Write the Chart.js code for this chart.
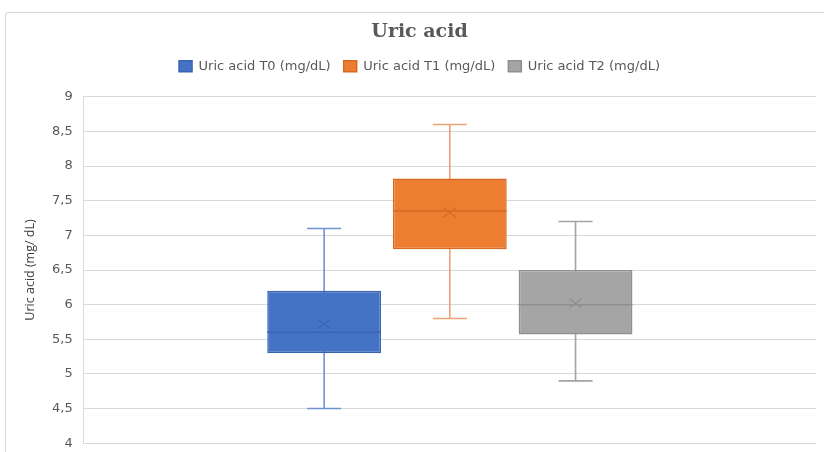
<!DOCTYPE html>
<html>
<head>
<meta charset="utf-8">
<script src="https://cdn.jsdelivr.net/npm/chart.js@4.4.1/dist/chart.umd.min.js"></script>
<style>
    html, body { margin: 0; padding: 0; background: #fff; overflow: hidden; }
    #wrap { position: relative; width: 824px; height: 452px; overflow: hidden; }
    #frame { position: absolute; left: 5px; top: 12px; width: 900px; height: 600px; border: 1px solid #d9d9d9; border-radius: 3px; pointer-events: none; }
    canvas { position: absolute; left: 0; top: 0; }
</style>
</head>
<body>
<div id="wrap">
    <div id="frame"></div>
    <canvas id="uricChart" width="824" height="462"></canvas>
</div>
<script>
const categories = [''];
const seriesLabels = ['Uric acid T0 (mg/dL)', 'Uric acid T1 (mg/dL)', 'Uric acid T2 (mg/dL)'];
const minValues = [4.5, 5.8, 4.9];
const q1Values = [5.3, 6.8, 5.57];
const medianValues = [5.6, 7.35, 6.0];
const q3Values = [6.2, 7.82, 6.5];
const maxValues = [7.1, 8.6, 7.2];
const meanValues = [5.72, 7.33, 6.02];
const yTicks = [4, 4.5, 5, 5.5, 6, 6.5, 7, 7.5, 8, 8.5, 9];

const fillColors = ['#4472C4', '#ED7D31', '#A5A5A5'];
const edgeColors = ['#3a64b0', '#d26a25', '#8f8f8f'];
const whiskerColors = ['#7192d3', '#eea277', '#a3a3a3'];

// extra room under the legend
const legendGap = {
    id: 'legendGap',
    beforeInit(chart) {
        const origFit = chart.legend.fit;
        chart.legend.fit = function () {
            origFit.bind(chart.legend)();
            this.height += 14;
        };
    }
};

// whiskers behind the boxes, median and mean on top
const boxPlotPlugin = {
    id: 'boxPlot',
    beforeDatasetsDraw(chart) {
        const ctx = chart.ctx;
        const y = chart.scales.y;
        chart.data.datasets.forEach((ds, i) => {
            const bar = chart.getDatasetMeta(i).data[0];
            if (!bar) return;
            const cap = 17;
            const yMin = y.getPixelForValue(minValues[i]);
            const yMax = y.getPixelForValue(maxValues[i]);
            ctx.save();
            ctx.strokeStyle = whiskerColors[i];
            ctx.lineWidth = 1.6;
            ctx.beginPath();
            ctx.moveTo(bar.x, yMin);
            ctx.lineTo(bar.x, yMax);
            ctx.moveTo(bar.x - cap, yMin);
            ctx.lineTo(bar.x + cap, yMin);
            ctx.moveTo(bar.x - cap, yMax);
            ctx.lineTo(bar.x + cap, yMax);
            ctx.stroke();
            ctx.restore();
        });
    },
    afterDatasetsDraw(chart) {
        const ctx = chart.ctx;
        const y = chart.scales.y;
        chart.data.datasets.forEach((ds, i) => {
            const bar = chart.getDatasetMeta(i).data[0];
            if (!bar) return;
            const half = bar.width / 2;
            const yMed = y.getPixelForValue(medianValues[i]);
            const yMean = y.getPixelForValue(meanValues[i]);
            ctx.save();
            ctx.strokeStyle = edgeColors[i];
            ctx.lineWidth = 1.5;
            ctx.beginPath();
            ctx.moveTo(bar.x - half, yMed);
            ctx.lineTo(bar.x + half, yMed);
            ctx.stroke();
            const m = 6;
            ctx.lineWidth = 1.2;
            ctx.beginPath();
            ctx.moveTo(bar.x - m, yMean - m * 0.75);
            ctx.lineTo(bar.x + m, yMean + m * 0.75);
            ctx.moveTo(bar.x - m, yMean + m * 0.75);
            ctx.lineTo(bar.x + m, yMean - m * 0.75);
            ctx.stroke();
            ctx.restore();
        });
    }
};

const uricChart = new Chart(document.getElementById('uricChart').getContext('2d'), {
    type: 'bar',
    data: {
        labels: categories,
        datasets: seriesLabels.map((label, i) => ({
            label: label,
            data: [[q1Values[i], q3Values[i]]],
            backgroundColor: fillColors[i],
            borderColor: edgeColors[i],
            borderWidth: 1.5,
            borderSkipped: false,
            categoryPercentage: 0.515,
            barPercentage: 0.905
        }))
    },
    options: {
        responsive: false,
        animation: false,
        layout: { padding: { left: 23, right: 8, top: 0, bottom: 0 } },
        plugins: {
            title: {
                display: true,
                text: 'Uric acid',
                color: '#595959',
                font: { family: '"DejaVu Serif", "Liberation Serif", serif', size: 19, weight: 'bold' },
                padding: { top: 21, bottom: 3 }
            },
            legend: {
                display: true,
                position: 'top',
                labels: {
                    color: '#595959',
                    font: { family: '"DejaVu Sans", sans-serif', size: 13 },
                    boxWidth: 13,
                    boxHeight: 11,
                    padding: 13
                }
            },
            tooltip: { enabled: false }
        },
        scales: {
            x: { display: false },
            y: {
                min: 4,
                max: 9,
                afterBuildTicks: (axis) => { axis.ticks = yTicks.map((v) => ({ value: v })); },
                ticks: {
                    color: '#595959',
                    font: { family: '"DejaVu Sans", sans-serif', size: 13 },
                    padding: 11,
                    callback: (v) => String(v).replace('.', ',')
                },
                grid: { color: '#d9d9d9', lineWidth: 1, drawTicks: false },
                border: { display: true, color: '#d9d9d9' },
                title: {
                    display: true,
                    text: 'Uric acid (mg/ dL)',
                    color: '#404040',
                    font: { family: '"Open Sans", Lato, sans-serif', size: 12.5 },
                    padding: { top: 0, bottom: 3 }
                }
            }
        }
    },
    plugins: [legendGap, boxPlotPlugin]
});
</script>
</body>
</html>
